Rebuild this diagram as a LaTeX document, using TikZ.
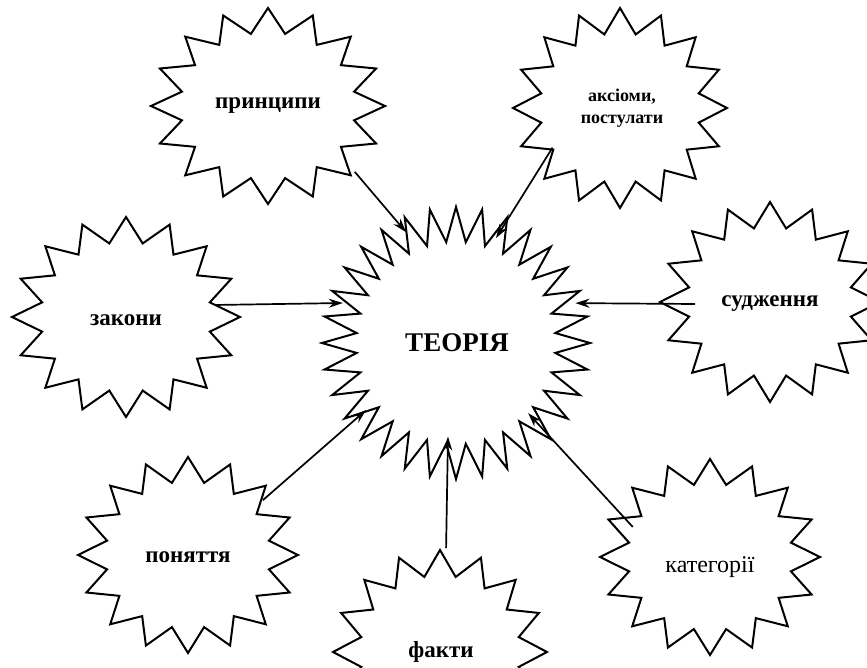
\documentclass[tikz,border=0pt]{standalone}
\usepackage{fontspec}
\setmainfont{Liberation Serif}
\usetikzlibrary{arrows.meta}
% #1 cx, #2 cy, #3 rx, #4 ry, #5 inner ratio, #6 number of vertices minus one
\newcommand{\burstshape}[6]{%
  \draw[burstline] ({#1+#3},{#2})
    \foreach \k in {1,...,#6}{
      -- ({#1+#3*cos(\k*(360/(#6+1)))*(1-(1-#5)*mod(\k,2))},{#2+#4*sin(\k*(360/(#6+1)))*(1-(1-#5)*mod(\k,2))})
    } -- cycle;}
\begin{document}
\begin{tikzpicture}[x=1pt,y=-1pt,
  burstline/.style={line width=2pt, line join=miter},
  lbl/.style={font=\bfseries\fontsize{23}{26}\selectfont, align=center, inner sep=0pt},
  conn/.style={line width=1.7pt, -{Stealth[length=14pt,width=9pt]}}]
\useasboundingbox (0,0) rectangle (867,668);
\clip (0,0) rectangle (867,668);
\fill[white] (0,0) rectangle (867,668);
% bursts
\burstshape{456}{343}{134}{136}{0.745}{63}
\burstshape{268}{106}{117}{98}{0.75}{31}
\burstshape{620}{108}{107}{100}{0.75}{31}
\burstshape{126}{317}{114}{100}{0.75}{31}
\burstshape{770}{302}{110}{100}{0.75}{31}
\burstshape{188}{555}{110}{98}{0.75}{31}
\burstshape{440}{652}{107}{102}{0.75}{31}
\burstshape{710}{557}{110}{98}{0.75}{31}
% labels
\node[lbl, font=\bfseries\fontsize{27}{30}\selectfont] (teo) at (457,343) {ТЕОРІЯ};
\node[lbl] (pri) at (268,106) {принципи};
\node[lbl, font=\bfseries\fontsize{18}{22}\selectfont] (aks) at (622,108) {аксіоми,\\постулати};
\node[lbl] (zak) at (126,320) {закони};
\node[lbl] (sud) at (770,304) {судження};
\node[lbl] (pon) at (188,557) {поняття};
\node[lbl] (fak) at (441,652) {факти};
\node[lbl, font=\fontsize{24}{26}\selectfont] (kat) at (710,567) {категорії};
% connectors
\draw[conn] ([shift={(-37.2:109pt)}]pri.center) -- ([shift={(114.7:122pt)}]teo.center);
\draw[conn] ([shift={(209.7:80pt)}]aks.center) -- ([shift={(69.6:112pt)}]teo.center);
\draw[conn] ([shift={(9.6:90pt)}]zak.center) -- ([shift={(160.7:121pt)}]teo.center);
\draw[conn] ([shift={(180:75pt)}]sud.center) -- ([shift={(18.6:125pt)}]teo.center);
\draw[conn] ([shift={(37.2:94pt)}]pon.center) -- ([shift={(216.4:113pt)}]teo.center);
\draw[conn] ([shift={(87.2:104pt)}]fak.center) -- ([shift={(264.5:94pt)}]teo.center);
\draw[conn] ([shift={(152.6:87pt)}]kat.center) -- ([shift={(315.4:100pt)}]teo.center);
\end{tikzpicture}
\end{document}
